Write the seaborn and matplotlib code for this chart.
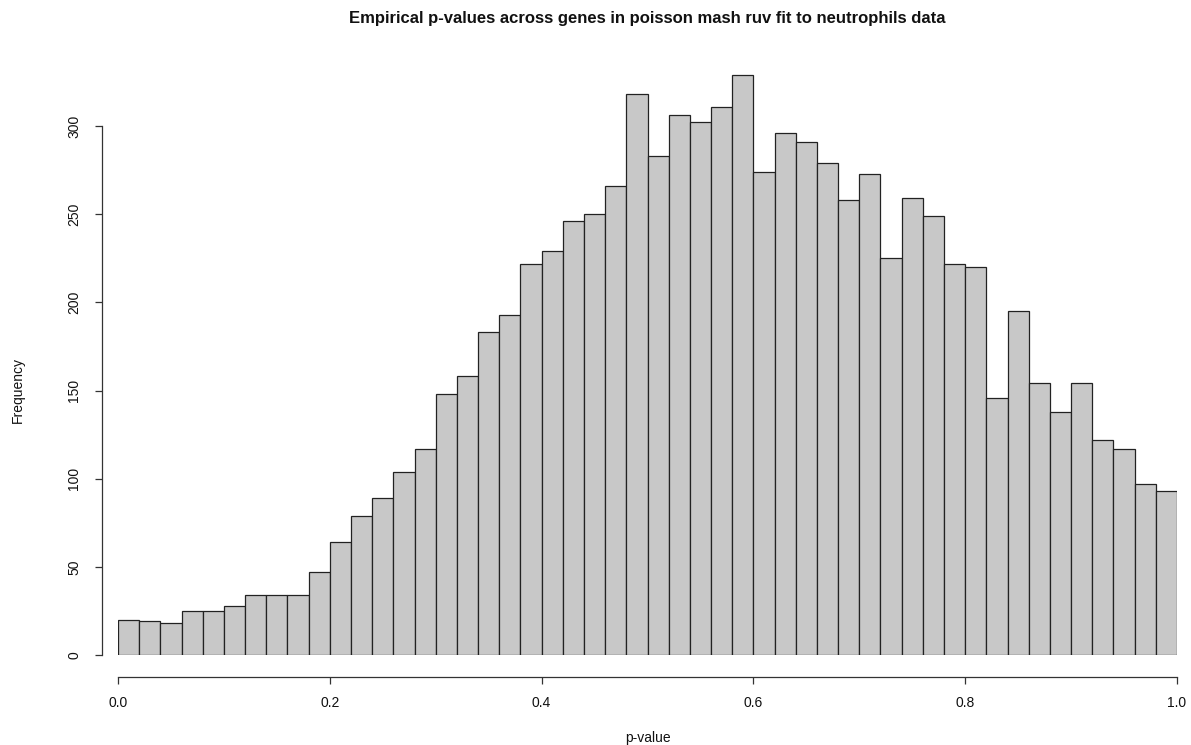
import matplotlib
matplotlib.use("Agg")
import matplotlib.pyplot as plt
import seaborn as sns
import numpy as np
import pandas as pd

# bin edges (width 0.02) and counts
edges = [round(i * 0.02, 2) for i in range(51)]
counts = [20, 19, 18, 25, 25, 28, 34, 34, 34, 47,
          64, 79, 89, 104, 117, 148, 158, 183, 193, 222,
          229, 246, 250, 266, 318, 283, 306, 302, 311, 329,
          274, 296, 291, 279, 258, 273, 225, 259, 249, 222,
          220, 146, 195, 154, 138, 154, 122, 117, 97, 93]
centers = [(a + b) / 2 for a, b in zip(edges[:-1], edges[1:])]
df = pd.DataFrame({'pval': centers, 'n': counts})

sns.set_style("white")
plt.rcParams['font.family'] = ['Liberation Sans', 'DejaVu Sans']

fig = plt.figure(figsize=(11.91, 7.45), dpi=100)
ax = fig.add_axes([118 / 1191, 90 / 745, 1059 / 1191, 342 * (529 / 300) / 745])

sns.histplot(data=df, x='pval', weights='n', bins=edges, color='#C8C8C8',
             edgecolor='#222222', linewidth=0.9, alpha=1, ax=ax)

ax.set_xlim(0, 1)
ax.set_ylim(0, 342)

for s in ['top', 'right']:
    ax.spines[s].set_visible(False)
ax.spines['left'].set_position(('outward', 11.5))
ax.spines['bottom'].set_position(('outward', 15.8))
ax.spines['left'].set_bounds(0, 300)
ax.spines['bottom'].set_bounds(0, 1)
for s in ['left', 'bottom']:
    ax.spines[s].set_color('#333333')
    ax.spines[s].set_linewidth(0.9)

ax.set_yticks(range(0, 301, 50))
ax.set_xticks([0.0, 0.2, 0.4, 0.6, 0.8, 1.0])
ax.set_xticklabels(['0.0', '0.2', '0.4', '0.6', '0.8', '1.0'])
ax.tick_params(axis='both', direction='out', length=5, width=0.9,
               color='#333333', labelsize=10, labelcolor='#111111',
               left=True, bottom=True)
ax.tick_params(axis='x', pad=9)
ax.tick_params(axis='y', pad=10)
for lab in ax.get_yticklabels():
    lab.set_rotation(90)
    lab.set_va('center')

ax.set_xlabel('p-value', fontsize=10, color='#111111')
ax.set_ylabel('Frequency', fontsize=10, color='#111111')
ax.xaxis.set_label_coords((118 + 1059 / 2) / 1191, (745 - 738) / 745, transform=fig.transFigure)
ax.yaxis.set_label_coords(18 / 1191, (745 - 390) / 745, transform=fig.transFigure)
ax.xaxis.label.set_va('center')
ax.yaxis.label.set_ha('center')
ax.yaxis.label.set_va('center')

fig.text((118 + 1059 / 2) / 1191, (745 - 19) / 745,
         'Empirical p-values across genes in poisson mash ruv fit to neutrophils data',
         ha='center', va='center', fontsize=12, fontweight='bold', color='#111111')

fig.savefig('out.png', dpi=100)
